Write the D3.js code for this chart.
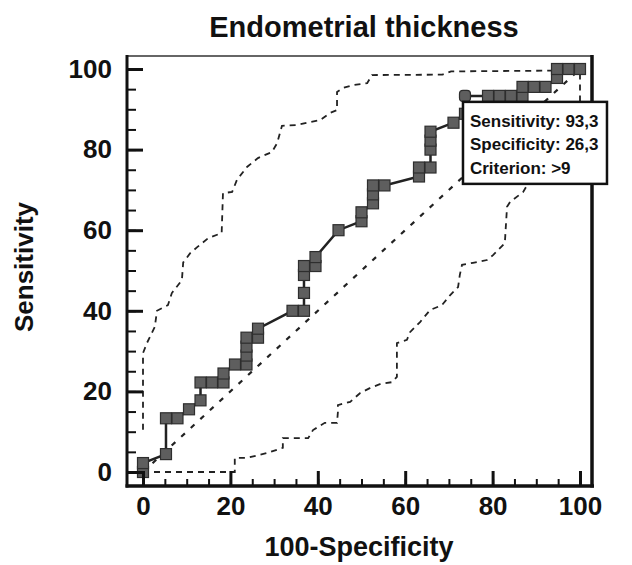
<!DOCTYPE html>
<html>
<head>
<meta charset="utf-8">
<script src="https://cdn.jsdelivr.net/npm/d3@7"></script>
<style>
  html, body { margin: 0; padding: 0; background: #fff; }
  svg { display: block; }
  text { font-family: "Liberation Sans", Arial, Helvetica, sans-serif; font-weight: bold; fill: #111; }
</style>
</head>
<body>
<script>
// ---------------- data ----------------
const title = "Endometrial thickness";
const xLabel = "100-Specificity";
const yLabel = "Sensitivity";
const majorTicks = [0, 20, 40, 60, 80, 100];
const minorTicks = d3.range(0, 101, 5);

// ROC curve points (100-Specificity, Sensitivity)
const rocFpr  = [0, 0, 5.26, 5.26, 7.89, 10.53, 13.16, 13.16, 15.79, 18.42, 18.42, 21.05, 23.68, 23.68, 23.68, 23.68, 26.32, 26.32,
                 34.21, 36.84, 36.84, 36.84, 36.84, 39.47, 39.47, 44.74, 50, 50, 52.63, 52.63, 52.63, 55.26, 63.16, 63.16, 65.79,
                 65.79, 65.79, 65.79, 71.05, 73.68, 73.68, 78.95, 81.58, 84.21, 86.84, 86.84, 89.47, 92.11, 94.74, 94.74, 97.37, 100];
const rocSens = [0, 2.22, 4.44, 13.33, 13.33, 15.56, 17.78, 22.22, 22.22, 22.22, 24.44, 26.67, 26.67, 28.89, 31.11, 33.33, 33.33, 35.56,
                 40, 40, 44.44, 48.89, 51.11, 51.11, 53.33, 60, 62.22, 64.44, 66.67, 68.89, 71.11, 71.11, 73.33, 75.56, 75.56,
                 80, 82.22, 84.44, 86.67, 88.89, 93.33, 93.33, 93.33, 93.33, 93.33, 95.56, 95.56, 95.56, 97.78, 100, 100, 100];

// upper confidence bound
const upperFpr  = [0, 0, 0.9, 2.7, 3.2, 5.7, 6.6, 8.9, 9.2, 10.8, 12.4, 14.9, 18, 18.3, 20.4, 21.5, 23.8, 26.3, 29.5, 30.7, 31.8,
                   35.2, 38.2, 40.5, 42.8, 44.4, 44.4, 45.8, 48.1, 51.3, 52.4, 68.5, 70.5, 94, 100];
const upperSens = [10.5, 29.5, 32, 36, 40, 41.4, 44.4, 47.6, 52, 54.3, 55.8, 58, 59.3, 69.2, 69.5, 72.5, 75.7, 77.9, 79.4, 81.6, 85.9,
                   86.1, 86.8, 87.3, 89.1, 89.8, 94.3, 95.3, 96, 96.5, 98.5, 98.6, 99.4, 99.6, 100];

// lower confidence bound
const lowerFpr  = [0, 21, 21, 23.8, 28.4, 32, 32, 37.8, 38.9, 41.6, 44.4, 44.6, 44.6, 47.4, 49.7, 51.9, 54.2, 57, 58.1, 58.1, 60.4,
                   61.1, 63.4, 65.7, 68.4, 70.3, 72.1, 72.5, 73, 75.5, 78.7, 80.1, 82.8, 83.3, 84, 87, 90, 93, 97, 100, 100];
const lowerSens = [0, 0, 3.5, 3.5, 4.7, 6, 8.4, 8.4, 10.4, 12.2, 12.2, 14.9, 16.6, 17.4, 19.6, 20.8, 21.8, 22.3, 23.6, 32, 32.8,
                   34.7, 37.2, 40.2, 41.4, 43.9, 45.9, 48.9, 51.4, 51.9, 52.6, 53.8, 56.8, 65.8, 67, 69.5, 75, 84, 90, 92, 100];

// reference diagonal
const diagFpr = [0, 100];
const diagSens = [0, 100];

// selected criterion
const criterionIndex = 40;
const legendLines = ["Sensitivity: 93,3", "Specificity: 26,3", "Criterion: >9"];

// ---------------- chart ----------------
const W = 632, H = 565;
const frame = { left: 127, right: 592, top: 56, bottom: 486 };
const x = d3.scaleLinear().domain([0, 100]).range([143, 580]);
const y = d3.scaleLinear().domain([0, 100]).range([472, 69]);

const svg = d3.select("body").append("svg").attr("width", W).attr("height", H);

const toPts = (xs, ys) => xs.map((v, i) => [v, ys[i]]);
const line = d3.line().x(d => x(d[0])).y(d => y(d[1]));

// confidence bands
[toPts(upperFpr, upperSens), toPts(lowerFpr, lowerSens)].forEach(pts => {
  svg.append("path").attr("d", line(pts))
    .attr("fill", "none").attr("stroke", "#222").attr("stroke-width", 1.8)
    .attr("stroke-dasharray", "6,5");
});

// diagonal
svg.append("path").attr("d", line(toPts(diagFpr, diagSens)))
  .attr("fill", "none").attr("stroke", "#222").attr("stroke-width", 2.2)
  .attr("stroke-dasharray", "5,8");

// ROC curve
const roc = toPts(rocFpr, rocSens);
svg.append("path").attr("d", line(roc))
  .attr("fill", "none").attr("stroke", "#222").attr("stroke-width", 2.5);

const ms = 11;
svg.append("g").selectAll("rect").data(roc).join("rect")
  .attr("x", d => x(d[0]) - ms / 2)
  .attr("y", d => y(d[1]) - ms / 2)
  .attr("width", ms).attr("height", ms)
  .attr("rx", (d, i) => i === criterionIndex ? 3.5 : 0)
  .attr("fill", "#5e5e5e").attr("stroke", "#2e2e2e").attr("stroke-width", 1.2);

// axes (ticks inward)
const xMinor = d3.axisBottom(x).tickValues(minorTicks).tickSize(-7).tickFormat("");
const xMajor = d3.axisBottom(x).tickValues(majorTicks).tickSize(-15).tickPadding(11).tickFormat(d3.format("d"));
const yMinor = d3.axisLeft(y).tickValues(minorTicks).tickSize(-9).tickFormat("");
const yMajor = d3.axisLeft(y).tickValues(majorTicks).tickSize(-16).tickPadding(15).tickFormat(d3.format("d"));

function styleAxis(g, w) {
  g.select(".domain").remove();
  g.selectAll(".tick line").attr("stroke", "#111").attr("stroke-width", w);
  g.selectAll(".tick text").style("font-size", "26px").attr("fill", "#111")
    .style("font-family", '"Liberation Sans", Arial, sans-serif').style("font-weight", "bold");
}
svg.append("g").attr("transform", `translate(0,${frame.bottom})`).call(xMinor).call(g => styleAxis(g, 2));
svg.append("g").attr("transform", `translate(0,${frame.bottom})`).call(xMajor).call(g => styleAxis(g, 3));
svg.append("g").attr("transform", `translate(${frame.left},0)`).call(yMinor).call(g => styleAxis(g, 2));
svg.append("g").attr("transform", `translate(${frame.left},0)`).call(yMajor).call(g => styleAxis(g, 3));

// frame
svg.append("line").attr("x1", frame.left).attr("x2", frame.right).attr("y1", frame.top).attr("y2", frame.top)
  .attr("stroke", "#333").attr("stroke-width", 1.6);
svg.append("line").attr("x1", frame.left).attr("x2", frame.left).attr("y1", frame.top - 1).attr("y2", frame.bottom + 1.5)
  .attr("stroke", "#111").attr("stroke-width", 3);
svg.append("line").attr("x1", frame.left - 1.5).attr("x2", frame.right + 2).attr("y1", frame.bottom).attr("y2", frame.bottom)
  .attr("stroke", "#111").attr("stroke-width", 3.5);
svg.append("line").attr("x1", frame.right).attr("x2", frame.right).attr("y1", frame.top - 1).attr("y2", frame.bottom + 1.5)
  .attr("stroke", "#111").attr("stroke-width", 3.5);

// legend box for criterion
const cx = x(rocFpr[criterionIndex]), cy = y(rocSens[criterionIndex]);
const box = { x: cx - 2, y: cy + 6, w: 144, h: 82 };
svg.append("rect").attr("x", box.x).attr("y", box.y).attr("width", box.w).attr("height", box.h)
  .attr("fill", "#fff").attr("stroke", "#111").attr("stroke-width", 2.5);
svg.append("g").selectAll("text").data(legendLines).join("text")
  .attr("x", box.x + 7)
  .attr("y", (d, i) => box.y + 25 + i * 23.5)
  .style("font-size", "17px")
  .text(d => d);

// titles
svg.append("text").attr("x", 364).attr("y", 37).attr("text-anchor", "middle")
  .style("font-size", "29px").text(title);
svg.append("text").attr("x", 359).attr("y", 556).attr("text-anchor", "middle")
  .style("font-size", "27px").text(xLabel);
svg.append("text").attr("transform", "translate(33,267) rotate(-90)").attr("text-anchor", "middle")
  .style("font-size", "26px").text(yLabel);
</script>
</body>
</html>
